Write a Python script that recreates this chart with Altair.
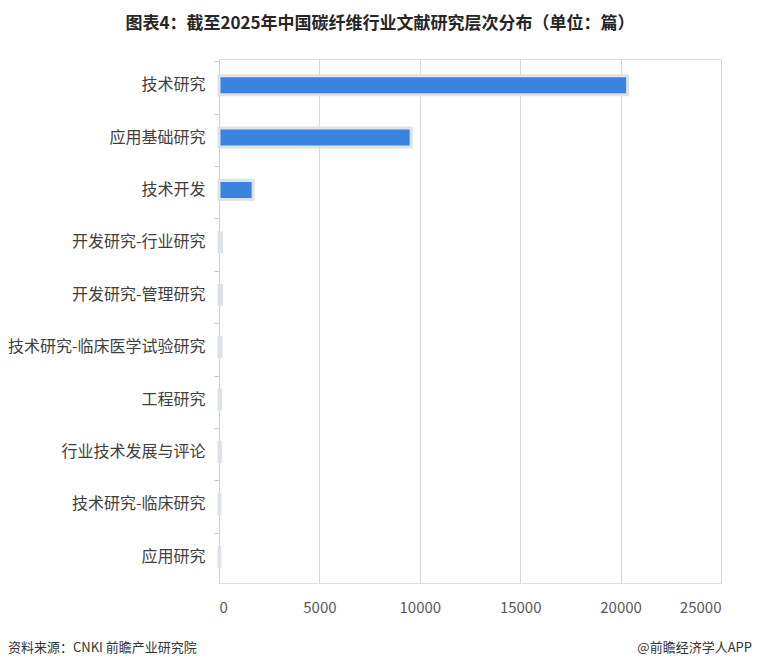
import altair as alt
import pandas as pd

categories = ["技术研究", "应用基础研究", "技术开发", "开发研究-行业研究", "开发研究-管理研究",
              "技术研究-临床医学试验研究", "工程研究", "行业技术发展与评论", "技术研究-临床研究", "应用研究"]
values = [20350, 9570, 1700, 130, 120, 100, 80, 70, 50, 40]
x_ticks = [0, 5000, 10000, 15000, 20000, 25000]

title_text = "图表4：截至2025年中国碳纤维行业文献研究层次分布（单位：篇）"
source_text = "资料来源：CNKI 前瞻产业研究院"
credit_text = "@前瞻经济学人APP"

FONT = "Noto Sans CJK SC"
df = pd.DataFrame({"cat": categories, "val": values})

bars = alt.Chart(df).mark_bar(
    color="#3A84E0", stroke="#DDE2E8", strokeWidth=3, size=19
).encode(
    x=alt.X("val:Q", scale=alt.Scale(domain=[0, 25000], nice=False),
            axis=alt.Axis(values=x_ticks, title=None, grid=True, gridColor="#D9D9D9",
                          domain=False, ticks=False, labelFontSize=15, labelColor="#595959",
                          labelPadding=17, labelFont=FONT, format="d")),
    y=alt.Y("cat:N", sort=categories,
            axis=alt.Axis(title=None, domainColor="#D0D0D0", tickColor="#C8C8C8", tickSize=5,
                          bandPosition=0, labelFontSize=16, labelColor="#404040",
                          labelPadding=9, labelFont=FONT, labelLimit=300)),
)

sdf = pd.DataFrame({"t": [source_text]})
source = alt.Chart(sdf).mark_text(fontSize=13, font=FONT, color="#333333",
                                   align="left", baseline="middle").encode(
    text="t:N", x=alt.value(-211), y=alt.value(589))

cdf = pd.DataFrame({"t": [credit_text]})
credit = alt.Chart(cdf).mark_text(fontSize=13, font=FONT, color="#333333",
                                   align="right", baseline="middle").encode(
    text="t:N", x=alt.value(533), y=alt.value(589))

chart = alt.layer(bars, source, credit).properties(
    width=502, height=524,
    autosize=alt.AutoSizeParams(type="none"),
    padding={"left": 211, "top": 51, "right": 31, "bottom": 78},
    title=alt.TitleParams(title_text, anchor="middle", fontSize=17, fontWeight="bold",
                          font=FONT, color="#262626", offset=26, dx=-90),
).configure_view(stroke=None).configure(background="white")

chart.save("out.html", embed_options={"renderer": "svg", "actions": False})
